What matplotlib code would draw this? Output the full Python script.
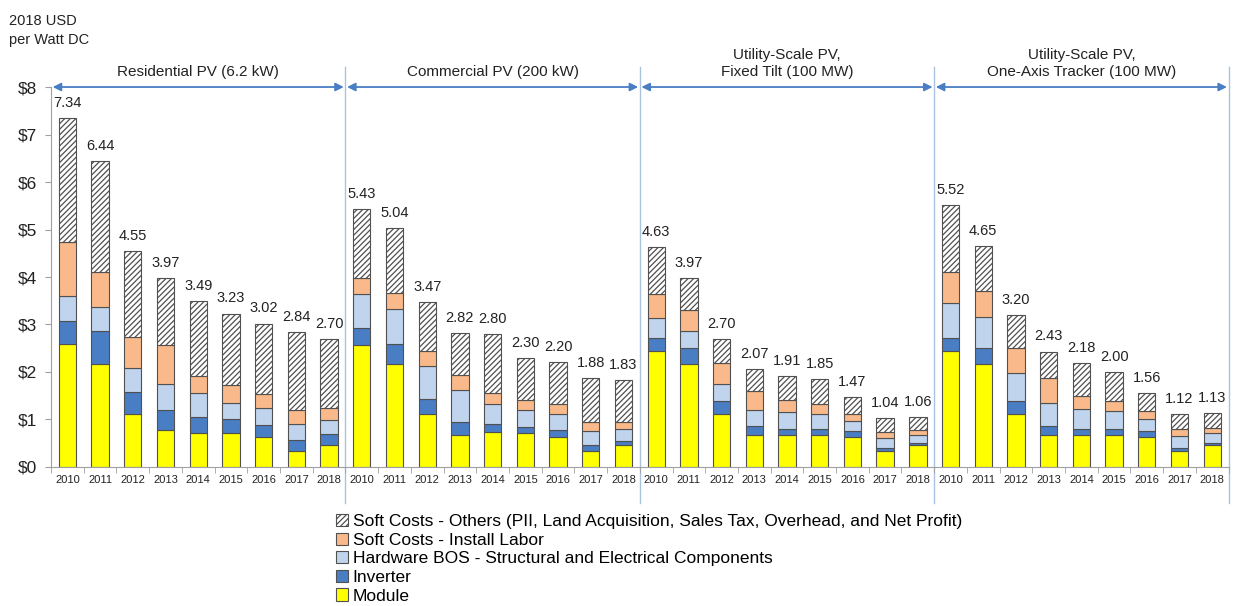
import matplotlib
matplotlib.use("Agg")
import matplotlib.pyplot as plt
import numpy as np
from matplotlib.patches import Patch

plt.rcParams["font.family"] = ["Liberation Sans", "DejaVu Sans"]
plt.rcParams["hatch.linewidth"] = 0.9

years = ["2010", "2011", "2012", "2013", "2014", "2015", "2016", "2017", "2018"]
segments = ["Residential PV (6.2 kW)", "Commercial PV (200 kW)",
            "Utility-Scale PV,\nFixed Tilt (100 MW)",
            "Utility-Scale PV,\nOne-Axis Tracker (100 MW)"]

# componentes (USD/W), por segmento
module = [
    [2.58, 2.17, 1.11, 0.77, 0.72, 0.72, 0.63, 0.34, 0.46],
    [2.56, 2.17, 1.11, 0.67, 0.74, 0.71, 0.63, 0.34, 0.46],
    [2.44, 2.17, 1.11, 0.67, 0.67, 0.67, 0.63, 0.34, 0.46],
    [2.44, 2.17, 1.11, 0.67, 0.67, 0.67, 0.63, 0.34, 0.46],
]
inverter = [
    [0.49, 0.69, 0.47, 0.44, 0.34, 0.30, 0.25, 0.22, 0.23],
    [0.37, 0.42, 0.33, 0.28, 0.16, 0.13, 0.15, 0.12, 0.09],
    [0.28, 0.34, 0.28, 0.19, 0.14, 0.12, 0.13, 0.07, 0.04],
    [0.28, 0.34, 0.28, 0.19, 0.14, 0.12, 0.13, 0.07, 0.05],
]
hardware_bos = [
    [0.54, 0.51, 0.50, 0.53, 0.49, 0.33, 0.37, 0.34, 0.30],
    [0.72, 0.73, 0.68, 0.67, 0.42, 0.36, 0.33, 0.30, 0.24],
    [0.42, 0.35, 0.36, 0.33, 0.35, 0.32, 0.21, 0.21, 0.17],
    [0.74, 0.65, 0.59, 0.49, 0.42, 0.39, 0.26, 0.24, 0.21],
]
install_labor = [
    [1.13, 0.74, 0.66, 0.83, 0.36, 0.37, 0.29, 0.31, 0.26],
    [0.33, 0.34, 0.33, 0.32, 0.24, 0.21, 0.21, 0.19, 0.16],
    [0.51, 0.44, 0.43, 0.42, 0.25, 0.21, 0.15, 0.12, 0.11],
    [0.64, 0.54, 0.52, 0.52, 0.26, 0.21, 0.16, 0.14, 0.11],
]
soft_others = [
    [2.60, 2.33, 1.81, 1.40, 1.58, 1.51, 1.48, 1.63, 1.45],
    [1.45, 1.38, 1.02, 0.88, 1.24, 0.89, 0.88, 0.93, 0.88],
    [0.98, 0.67, 0.52, 0.46, 0.50, 0.53, 0.35, 0.30, 0.28],
    [1.42, 0.95, 0.70, 0.56, 0.69, 0.61, 0.38, 0.33, 0.30],
]
totals = [
    [7.34, 6.44, 4.55, 3.97, 3.49, 3.23, 3.02, 2.84, 2.70],
    [5.43, 5.04, 3.47, 2.82, 2.80, 2.30, 2.20, 1.88, 1.83],
    [4.63, 3.97, 2.70, 2.07, 1.91, 1.85, 1.47, 1.04, 1.06],
    [5.52, 4.65, 3.20, 2.43, 2.18, 2.00, 1.56, 1.12, 1.13],
]

series = [
    ("Module", module, "#ffff00", None),
    ("Inverter", inverter, "#4a7ec4", None),
    ("Hardware BOS - Structural and Electrical Components", hardware_bos, "#c0d4ee", None),
    ("Soft Costs - Install Labor", install_labor, "#f9b98a", None),
    ("Soft Costs - Others (PII, Land Acquisition, Sales Tax, Overhead, and Net Profit)",
     soft_others, "white", "//////"),
]

n_seg, n_yr = len(segments), len(years)
x = np.arange(n_seg * n_yr)
edge = "#505050"
sep_color = "#a9c2e0"
arrow_color = "#4a7ec4"

fig = plt.figure(figsize=(12.36, 6.06), dpi=100)
ax = fig.add_axes([0.0413, 0.2294, 0.9527, 0.627])

bottom = np.zeros(len(x))
handles = []
for name, vals, color, hatch in series:
    v = np.concatenate([np.array(s) for s in vals])
    ax.bar(x, v, bottom=bottom, width=0.53, color=color, edgecolor=edge,
           linewidth=0.8, hatch=hatch, zorder=2)
    bottom += v
    handles.append(Patch(facecolor=color, edgecolor=edge, hatch=hatch, linewidth=0.8,
                         label=name))

tot = np.concatenate([np.array(t) for t in totals])
for xi, t in zip(x, tot):
    ax.text(xi, t + 0.17, f"{t:.2f}", ha="center", va="bottom", fontsize=10.5,
            color="#222222")

ax.set_xlim(-0.5, len(x) - 0.5)
ax.set_ylim(0, 8)
ax.set_yticks(range(0, 9))
ax.set_yticklabels([f"${v}" for v in range(0, 9)], fontsize=12.5, color="#222222")
ax.set_xticks(x)
ax.set_xticklabels(years * n_seg, fontsize=8, color="#222222")
ax.set_xticks(np.arange(-0.5, len(x), 1.0), minor=True)
ax.tick_params(axis="x", which="major", length=0, pad=6)
ax.tick_params(axis="x", which="minor", length=4, color="#a0a0a0")
ax.tick_params(axis="y", length=4, color="#a0a0a0", pad=6)
for s in ["top", "right"]:
    ax.spines[s].set_visible(False)
ax.spines["left"].set_color("#a0a0a0")
ax.spines["bottom"].set_color("#a0a0a0")

# separadores e setas de cada segmento
for i, seg in enumerate(segments):
    lo, hi = i * n_yr - 0.5, (i + 1) * n_yr - 0.5
    ax.plot([hi, hi], [-0.75, 8.43], color=sep_color, lw=1, clip_on=False, zorder=1)
    ax.annotate("", xy=(lo + 0.05, 8), xytext=(hi - 0.05, 8),
                arrowprops=dict(arrowstyle="<|-|>", color=arrow_color, lw=1.3,
                                mutation_scale=12, shrinkA=0, shrinkB=0),
                annotation_clip=False)
    ax.text((lo + hi) / 2, 8.16, seg, ha="center", va="bottom", fontsize=11,
            linespacing=1.35, color="#222222")

fig.text(0.007, 0.922, "2018 USD\nper Watt DC", fontsize=10.5, va="bottom",
         ha="left", linespacing=1.5, color="#222222")

fig.legend(handles=handles[::-1], loc="upper left", bbox_to_anchor=(0.272, 0.152),
           frameon=False, fontsize=12.5, handlelength=0.7, handleheight=0.7,
           handletextpad=0.25, labelspacing=0.2, borderaxespad=0, borderpad=0)

fig.savefig("out.png", dpi=100)
